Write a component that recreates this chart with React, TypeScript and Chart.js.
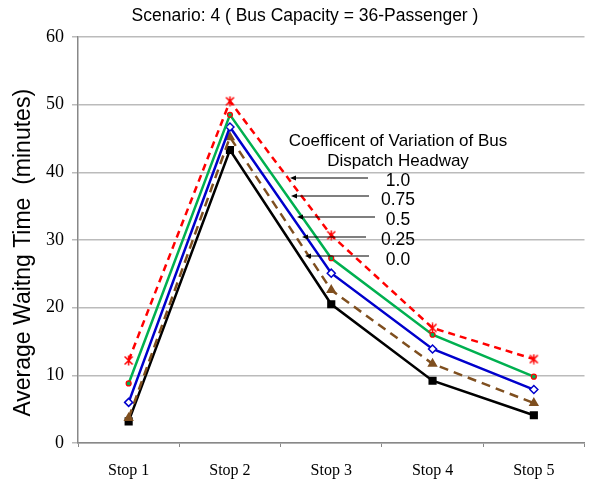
import React, { useEffect, useRef } from "react";
import { Chart, registerables } from "chart.js";

Chart.register(...registerables);

const stops = ["Stop 1", "Stop 2", "Stop 3", "Stop 4", "Stop 5"];
const cv10 = [12.2, 50.5, 30.7, 17.0, 12.4];
const cv075 = [8.8, 48.5, 27.3, 16.0, 9.8];
const cv05 = [6.0, 46.7, 25.1, 13.9, 7.9];
const cv025 = [3.7, 45.2, 22.6, 11.7, 5.9];
const cv00 = [3.2, 43.3, 20.5, 9.2, 4.1];
const yTicks = [0, 10, 20, 30, 40, 50, 60];
const cvLabels = ["1.0", "0.75", "0.5", "0.25", "0.0"];

function makeStar(color: string) {
  const c = document.createElement("canvas");
  c.width = 11;
  c.height = 11;
  const g = c.getContext("2d")!;
  g.strokeStyle = color;
  g.lineWidth = 1.5;
  g.beginPath();
  g.moveTo(1.5, 1.5); g.lineTo(9.5, 9.5);
  g.moveTo(9.5, 1.5); g.lineTo(1.5, 9.5);
  g.moveTo(5.5, 0.5); g.lineTo(5.5, 10.5);
  g.stroke();
  return c;
}

const annotationPlugin = {
  id: "annot",
  afterDraw(chart: any) {
    const ctx = chart.ctx;
    ctx.save();
    ctx.fillStyle = "#000";
    ctx.textAlign = "center";
    ctx.textBaseline = "middle";
    ctx.font = "17.5px 'Liberation Sans', Arial, sans-serif";
    ctx.fillText("Scenario: 4 ( Bus Capacity = 36-Passenger )", 305, 16);
    ctx.font = "17px 'Liberation Sans', Arial, sans-serif";
    ctx.fillText("Coefficent of Variation of Bus", 398, 141);
    ctx.fillText("Dispatch Headway", 398, 161);
    const rows = [
      { y: 178, x1: 368, x2: 290, ly: 181 },
      { y: 196, x1: 369, x2: 291, ly: 200 },
      { y: 217, x1: 375, x2: 297, ly: 220 },
      { y: 237, x1: 366, x2: 302, ly: 240 },
      { y: 256, x1: 369, x2: 305, ly: 260 },
    ];
    ctx.font = "17.5px 'Liberation Sans', Arial, sans-serif";
    rows.forEach((r, i) => {
      ctx.fillText(cvLabels[i], 398, r.ly);
      ctx.strokeStyle = "#000";
      ctx.lineWidth = 1.2;
      ctx.beginPath();
      ctx.moveTo(r.x1, r.y);
      ctx.lineTo(r.x2 + 4, r.y);
      ctx.stroke();
      ctx.beginPath();
      ctx.moveTo(r.x2, r.y);
      ctx.lineTo(r.x2 + 6, r.y - 2.5);
      ctx.lineTo(r.x2 + 6, r.y + 2.5);
      ctx.closePath();
      ctx.fill();
    });
    ctx.restore();
  },
};

export default function App() {
  const ref = useRef<HTMLCanvasElement>(null);
  useEffect(() => {
    document.body.style.margin = "0";
    const star = makeStar("#FF0000");
    const chart = new Chart(ref.current!, {
      type: "line",
      data: {
        labels: stops,
        datasets: [
          {
            label: "1.0", data: cv10, borderColor: "#FF0000", backgroundColor: "#FF0000",
            borderDash: [7, 5], borderWidth: 2.5, pointStyle: star as any, pointRadius: 5, tension: 0,
          },
          {
            label: "0.75", data: cv075, borderColor: "#00B050", backgroundColor: "#00B050",
            borderWidth: 2.5, pointStyle: "circle", pointRadius: 2.5,
            pointBorderColor: "#FF0000", pointBackgroundColor: "#00B050", pointBorderWidth: 1.2, tension: 0,
          },
          {
            label: "0.5", data: cv05, borderColor: "#0000CC", backgroundColor: "#FFFFFF",
            borderWidth: 2.5, pointStyle: "rectRot", pointRadius: 4,
            pointBorderColor: "#0000CC", pointBackgroundColor: "#FFFFFF", pointBorderWidth: 1.5, tension: 0,
          },
          {
            label: "0.25", data: cv025, borderColor: "#7F4F1F", backgroundColor: "#7F4F1F",
            borderDash: [9, 6], borderWidth: 2.5, pointStyle: "triangle", pointRadius: 3.5, tension: 0,
          },
          {
            label: "0.0", data: cv00, borderColor: "#000000", backgroundColor: "#000000",
            borderWidth: 2.5, pointStyle: "rect", pointRadius: 4, tension: 0,
          },
        ],
      },
      options: {
        animation: false,
        responsive: false,
        layout: { padding: { top: 37, right: 1, left: 0, bottom: 0 } },
        plugins: { legend: { display: false }, title: { display: false }, tooltip: { enabled: false } },
        scales: {
          x: {
            offset: true,
            grid: { display: true, drawOnChartArea: false, offset: true, tickLength: 4, color: "#888" },
            border: { color: "#888", width: 1.5 },
            ticks: { color: "#000", font: { family: "'Liberation Serif', 'Times New Roman', serif", size: 16 }, padding: 14 },
            afterFit: (s: any) => { s.height = 38; },
          },
          y: {
            min: 0, max: 60,
            afterBuildTicks: (s: any) => { s.ticks = yTicks.map((v) => ({ value: v })); },
            grid: { color: "#BBBBBB", lineWidth: 1.5, tickLength: 6 },
            border: { color: "#888", width: 1.5 },
            ticks: { color: "#000", font: { family: "'Liberation Serif', 'Times New Roman', serif", size: 18 }, padding: 8 },
            title: {
              display: true, text: "Average Waitng Time  (minutes)    ", color: "#000",
              font: { family: "'Liberation Sans', Arial, sans-serif", size: 23 }, padding: { top: 10, bottom: 4 },
            },
            afterFit: (s: any) => { s.width = 78; },
          },
        },
      },
      plugins: [annotationPlugin],
    });
    return () => chart.destroy();
  }, []);
  return (
    <div style={{ width: 592, height: 481 }}>
      <canvas ref={ref} width={592} height={481} style={{ display: "block" }} />
    </div>
  );
}
